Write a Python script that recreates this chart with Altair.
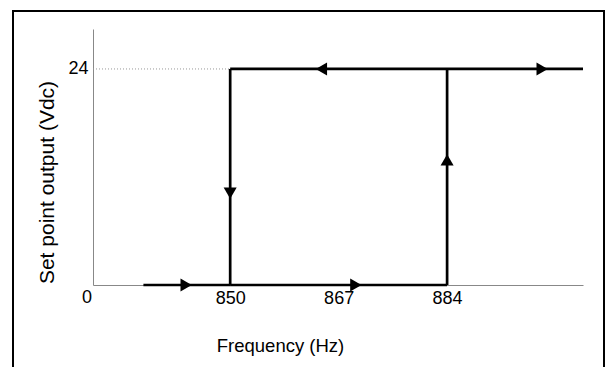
import altair as alt
import pandas as pd

FONT = "Liberation Sans"

# axis values
x_ticks = [850, 867, 884]
y_ticks = [24]
x_domain = [828.5, 905.3]
y_domain = [0, 28.44]

# hysteresis path segments (frequency, volts)
seg_x = [836.4, 850, 850, 850, 884]
seg_x2 = [850, 884, 850, 905.3, 884]
seg_y = [0, 0, 0, 24, 0]
seg_y2 = [0, 0, 24, 24, 24]

# direction arrows
arrow_x = [843.1, 869.7, 850, 884, 864.3, 898.9]
arrow_y = [0, 0, 10.2, 13.9, 24, 24]
arrow_shape = ["triangle-right", "triangle-right", "triangle-down",
               "triangle-up", "triangle-left", "triangle-right"]

# dotted guide at 24 V
guide_x = [x_domain[0]]
guide_x2 = [850]
guide_y = [24]

# origin label
origin_label = ["0"]

segs = pd.DataFrame({"x": seg_x, "x2": seg_x2, "y": seg_y, "y2": seg_y2})
arrows = pd.DataFrame({"x": arrow_x, "y": arrow_y, "shape": arrow_shape})
guide = pd.DataFrame({"x": guide_x, "x2": guide_x2, "y": guide_y})
origin = pd.DataFrame({"x": [x_domain[0]], "y": [0], "t": origin_label})
frame = pd.DataFrame({"a": [0]})

xs = alt.Scale(domain=x_domain, nice=False, zero=False)
ys = alt.Scale(domain=y_domain, nice=False, zero=False)

x_axis = alt.Axis(values=x_ticks, ticks=False, grid=False, labelFont=FONT,
                  labelFontSize=18, labelColor="black", labelPadding=4,
                  domainColor="#888888", domainWidth=1,
                  title="Frequency (Hz)", titleFont=FONT, titleFontSize=18.5,
                  titleFontWeight="normal", titleColor="black",
                  titleX=187, titleY=60, titleAlign="center",
                  titleBaseline="middle")
y_axis = alt.Axis(values=y_ticks, ticks=False, grid=False, labelFont=FONT,
                  labelFontSize=18, labelColor="black", labelPadding=5,
                  domainColor="#888888", domainWidth=1,
                  title="Set point output (Vdc)", titleFont=FONT,
                  titleFontSize=21, titleFontWeight="normal",
                  titleColor="black", titleX=-46, titleY=153,
                  titleAlign="center", titleBaseline="middle")

base_rules = alt.Chart(segs).mark_rule(color="black", strokeWidth=2.7).encode(
    x=alt.X("x:Q", scale=xs, axis=x_axis),
    x2="x2:Q",
    y=alt.Y("y:Q", scale=ys, axis=y_axis),
    y2="y2:Q",
)

guide_rule = alt.Chart(guide).mark_rule(color="#999999", strokeWidth=1,
                                        strokeDash=[1, 2]).encode(
    x=alt.X("x:Q", scale=xs),
    x2="x2:Q",
    y=alt.Y("y:Q", scale=ys),
)

arrow_pts = alt.Chart(arrows).mark_point(filled=True, color="black",
                                         opacity=1, size=170).encode(
    x=alt.X("x:Q", scale=xs),
    y=alt.Y("y:Q", scale=ys),
    shape=alt.Shape("shape:N", scale=None),
)

origin_txt = alt.Chart(origin).mark_text(font=FONT, fontSize=18, color="black",
                                         dx=-6, dy=13, align="center",
                                         baseline="middle").encode(
    x=alt.X("x:Q", scale=xs),
    y=alt.Y("y:Q", scale=ys),
    text="t:N",
)

border = alt.Chart(frame).mark_rect(fillOpacity=0, stroke="black",
                                    strokeWidth=2).encode(
    x=alt.value(-80), x2=alt.value(511), y=alt.value(-18), y2=alt.value(400)
)

chart = alt.layer(guide_rule, base_rules, arrow_pts, origin_txt, border).properties(
    width=490, height=256,
    autosize="none",
    padding={"left": 85, "top": 21, "right": 23, "bottom": 82},
    background="white",
).configure_view(stroke=None)

chart.save("out.html", embed_options={"renderer": "svg", "actions": False})
